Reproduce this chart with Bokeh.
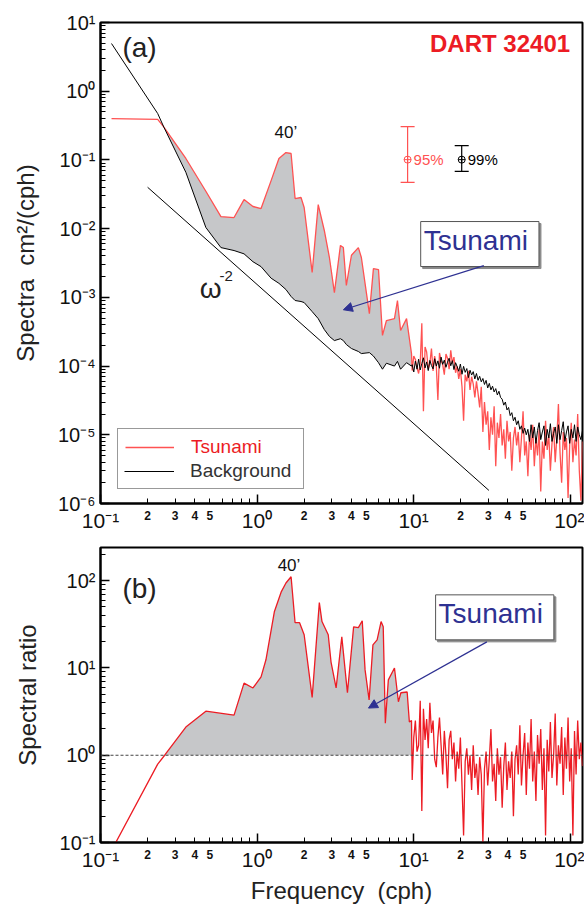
from bokeh.plotting import figure
from bokeh.layouts import column
from bokeh.models import (Range1d, FixedTicker, CustomJSTickFormatter, Label, Legend, LegendItem,
                          Span, Arrow, NormalHead, Whisker, TeeHead, ColumnDataSource, LogAxis)
from bokeh.embed import file_html
from bokeh.resources import INLINE

FONT = "Liberation Sans"
RED_A = "#ff5252"
RED_B = "#ec1c24"
GRAY_FILL = "#c6c7c9"
BLUE = "#2e3192"

# ---------------- data ----------------
# panel (a), low-frequency part (cph, cm^2/cph)
freq_lo = [0.1176, 0.232, 0.254, 0.351, 0.471, 0.588, 0.713, 0.826, 0.942, 1.061,
           1.23, 1.38, 1.53, 1.65, 1.75, 1.91, 2.0, 2.25, 2.46, 2.69,
           2.90, 3.12, 3.41, 3.56, 3.72, 4.01, 4.44, 4.64, 5.22, 5.54,
           5.97, 6.33, 6.71, 7.55, 7.89, 8.26, 9.02, 9.70]
tsunami_lo = [0.40, 0.39, 0.30, 0.105, 0.035, 0.015, 0.0145, 0.0265, 0.021, 0.0196,
              0.050, 0.105, 0.128, 0.124, 0.0274, 0.0284, 0.0203, 0.0023, 0.0224, 0.0094,
              0.0038, 0.00117, 0.0057, 0.0053, 0.00149, 0.0041, 0.0053, 0.0038, 0.00058, 0.00262,
              0.00254, 0.00028, 0.00046, 0.00049, 0.0009, 0.00033, 0.00049, 0.000152]
background_lo = [4.94, 0.473, 0.30, 0.066, 0.0104, 0.0053, 0.0048, 0.0043, 0.0033, 0.0028,
                 0.0019, 0.0016, 0.0013, 0.00103, 0.0009, 0.00087, 0.00084, 0.00062, 0.00049, 0.00034,
                 0.00027, 0.000235, 0.00025, 0.000235, 0.000206, 0.00018, 0.000163, 0.000152, 0.000157, 0.00014,
                 0.000112, 0.00009, 0.00011, 0.0001, 0.000117, 0.00009, 0.000112, 0.0001]

# panel (b), low-frequency part
ratio_freq_lo = [0.1176, 0.232, 0.257, 0.351, 0.471, 0.713, 0.826, 0.942, 1.061, 1.14,
                 1.29, 1.43, 1.53, 1.65, 1.75, 1.87, 2.0, 2.25, 2.5, 2.6,
                 2.85, 2.97, 3.2, 3.48, 3.78, 4.14, 4.44, 4.7, 4.9, 5.2,
                 5.5, 5.85, 6.2, 6.4, 6.6, 6.9, 7.55, 8.0, 8.3, 9.1,
                 9.4, 9.7]
ratio_lo = [0.081, 0.79, 1.0, 2.1, 3.2, 2.88, 6.7, 5.9, 7.9, 12.4,
            44, 75, 94, 111, 33, 33, 24, 4.6, 56, 34,
            24, 11.7, 5.9, 22.7, 5.2, 29.6, 29, 34.7, 9.5, 4.3,
            18.4, 21, 34, 29.6, 2.33, 7.3, 10, 4.1, 5.2, 5.3,
            2.4, 2.5]

# high-frequency (noisy) part shared by both panels
freq_hi = [9.8, 10.03, 10.27, 10.52, 10.77, 11.03, 11.29, 11.56, 11.84, 12.12,
           12.41, 12.71, 13.01, 13.32, 13.64, 13.97, 14.3, 14.64, 14.99, 15.35,
           15.72, 16.1, 16.48, 16.87, 17.28, 17.69, 18.11, 18.55, 18.99, 19.44,
           19.91, 20.39, 20.87, 21.37, 21.88, 22.41, 22.94, 23.49, 24.05, 24.63,
           25.22, 25.82, 26.44, 27.07, 27.72, 28.38, 29.06, 29.76, 30.47, 31.2,
           31.95, 32.71, 33.49, 34.29, 35.11, 35.95, 36.81, 37.69, 38.59, 39.52,
           40.46, 41.43, 42.42, 43.44, 44.48, 45.54, 46.63, 47.75, 48.89, 50.06,
           51.26, 52.48, 53.74, 55.02, 56.34, 57.69, 59.07, 60.48, 61.93, 63.41,
           64.93, 66.48, 68.07, 69.7, 71.37, 73.08, 74.82, 76.61, 78.45, 80.32,
           82.24, 84.21, 86.23, 88.29, 90.4, 92.56, 94.77, 97.04, 99.36, 101.7,
           104.2, 106.7, 109.2, 111.8, 114.5, 117.2, 120.0]
background_hi = [10.5e-5, 8.2e-5, 11.8e-5, 9.0e-5, 12.6e-5, 8.8e-5, 10.9e-5, 13.2e-5, 9.4e-5, 11.5e-5,
                 8.6e-5, 12.1e-5, 10.2e-5, 9.1e-5, 12.8e-5, 10.0e-5, 11.9e-5, 9.3e-5, 13.5e-5, 10.6e-5,
                 12.2e-5, 9.6e-5, 11.4e-5, 13.0e-5,
                 10.1e-5, 12.0e-5, 8.9e-5, 11.2e-5, 9.8e-5, 8.4e-5, 10.7e-5, 7.6e-5, 9.9e-5, 8.1e-5,
                 9.2e-5, 6.8e-5, 8.7e-5, 7.4e-5, 8.3e-5, 6.5e-5, 7.8e-5, 6.2e-5, 7.1e-5, 5.9e-5, 6.6e-5,
                 5.4e-5, 6.2e-5, 4.8e-5, 5.6e-5, 4.5e-5, 5.1e-5, 4.2e-5, 4.7e-5, 3.8e-5, 4.3e-5, 3.5e-5,
                 3.3e-5, 2.7e-5, 3.0e-5, 2.3e-5, 2.5e-5, 1.9e-5, 2.1e-5, 1.6e-5, 1.8e-5,
                 1.4e-5, 1.6e-5, 1.2e-5, 1.35e-5, 1.05e-5, 1.25e-5, 1.0e-5,
                 1.2e-5, 0.8e-5, 1.4e-5, 0.9e-5, 1.3e-5, 0.75e-5, 1.15e-5, 1.5e-5, 0.85e-5, 1.1e-5,
                 1.35e-5, 0.7e-5, 1.2e-5, 0.9e-5, 1.45e-5, 0.8e-5, 1.05e-5, 1.3e-5, 0.75e-5, 1.4e-5,
                 0.85e-5, 1.15e-5, 1.55e-5, 0.8e-5, 1.1e-5, 1.35e-5, 0.75e-5, 1.2e-5, 0.9e-5, 1.4e-5,
                 0.8e-5, 1.3e-5, 1.0e-5, 0.85e-5, 1.15e-5]
tsunami_hi = [8.6e-5, 14.0e-5, 12.5e-5, 9.5e-5, 7.8e-5, 11.0e-5, 42.0e-5, 2.2e-5, 19.0e-5, 16.0e-5,
              9.0e-5, 11.0e-5, 18.0e-5, 8.5e-5, 14.0e-5, 10.0e-5, 3.2e-5, 15.5e-5, 12.0e-5, 10.5e-5,
              7.5e-5, 15.0e-5, 13.0e-5, 9.0e-5,
              17.0e-5, 11.0e-5, 13.5e-5, 8.0e-5, 10.0e-5, 6.5e-5, 9.0e-5, 5.0e-5, 1.6e-5, 7.5e-5,
              6.0e-5, 8.5e-5, 4.5e-5, 7.0e-5, 5.5e-5, 3.5e-5, 6.0e-5, 4.0e-5, 2.5e-5, 5.0e-5, 1.1e-5,
              3.0e-5, 1.4e-5, 2.2e-5, 0.6e-5, 1.8e-5, 1.0e-5, 2.6e-5, 0.35e-5, 1.5e-5, 0.9e-5,
              2.0e-5, 0.7e-5, 1.2e-5, 0.45e-5, 1.6e-5, 0.8e-5, 1.1e-5, 0.3e-5, 0.9e-5, 1.3e-5,
              0.7e-5, 1.1e-5, 0.4e-5, 0.9e-5, 2.2e-5, 0.5e-5, 0.8e-5, 0.25e-5, 1.0e-5, 0.6e-5,
              1.4e-5, 0.35e-5, 0.9e-5, 0.5e-5, 1.2e-5, 0.15e-5, 0.8e-5, 0.45e-5, 1.6e-5, 0.6e-5,
              1.0e-5, 0.3e-5, 0.75e-5, 1.3e-5, 0.4e-5, 0.9e-5, 2.8e-5, 0.55e-5, 0.2e-5, 1.1e-5,
              0.6e-5, 0.9e-5, 0.12e-5, 0.7e-5, 1.5e-5, 0.4e-5, 0.85e-5, 0.5e-5, 2.0e-5, 0.3e-5,
              0.11e-5, 0.8e-5]
ratio_hi = [0.52, 1.6, 2.5, 1.1, 1.3, 4.2, 0.23, 3.4, 1.5, 2.6,
            1.2, 4.0, 1.8, 2.5, 0.9, 0.73, 1.6, 2.7, 1.3, 0.6,
            1.9, 1.0, 0.42, 1.5,
            1.9, 0.9, 1.4, 0.5, 1.1, 0.7, 1.6, 0.45, 0.12, 0.85,
            1.2, 0.6, 1.0, 0.4, 1.3, 0.55, 0.8, 0.35, 0.95, 0.6, 0.1,
            0.7, 1.1, 0.45, 0.9, 2.0, 0.5, 0.8, 0.3, 1.2, 0.6,
            0.95, 0.25, 0.75, 1.4, 0.4, 0.85, 0.55, 1.1, 0.2, 0.9,
            1.3, 0.6, 2.2, 0.45, 1.0, 1.8, 0.35, 1.4, 0.7, 2.6,
            0.5, 1.1, 0.3, 1.7, 0.8, 2.0, 0.4, 1.2, 0.12, 1.5,
            0.65, 2.4, 0.55, 1.0, 3.0, 0.45, 1.3, 0.8, 2.1, 0.35,
            1.6, 0.7, 2.7, 0.5, 1.2, 0.12, 1.9, 0.6, 2.5, 0.9,
            1.4, 0.75]

# omega^-2 reference line
omega_freq = [0.2, 30.3]
omega_level = [0.04, 1.55e-6]

# confidence intervals
ci_freq = [9.16, 20.3]
ci_center = [0.101, 0.101]
ci_upper = [0.306, 0.162]
ci_lower = [0.047, 0.068]
ci_labels = ["95%", "99%"]
ci_colors = [RED_A, "black"]

# labelled intermediate ticks (2 3 4 5 in each decade)
x_minor_digits = [0.2, 0.3, 0.4, 0.5, 2, 3, 4, 5, 20, 30, 40, 50]

assert len(freq_lo) == len(tsunami_lo) == len(background_lo)
assert len(ratio_freq_lo) == len(ratio_lo)
assert len(freq_hi) == len(tsunami_hi) == len(background_hi) == len(ratio_hi)

freq_all = freq_lo + freq_hi
tsunami_all = tsunami_lo + tsunami_hi
background_all = background_lo + background_hi
ratio_freq_all = ratio_freq_lo + freq_hi
ratio_all = ratio_lo + ratio_hi

SUP_JS = """
const e = Math.round(Math.log10(tick));
const m = {"-":"\u207b","0":"\u2070","1":"\u00b9","2":"\u00b2","3":"\u00b3","4":"\u2074","5":"\u2075","6":"\u2076","7":"\u2077","8":"\u2078","9":"\u2079"};
return "10" + String(e).split("").map(c => m[c]).join("");
"""
DIGIT_JS = """
const d = Math.round(tick / Math.pow(10, Math.floor(Math.log10(tick) + 1e-9)));
return String(d);
"""
NB = "\u00a0"


def log_ticker(e0, e1, top):
    majors = [10.0 ** e for e in range(e0, e1 + 1)]
    minors = [m * 10.0 ** e for e in range(e0, e1 + 1) for m in range(2, 10) if m * 10.0 ** e <= top]
    return FixedTicker(ticks=majors, minor_ticks=minors)


def style(p, y0, y1, ytop, ylabel, xlabel=None):
    p.outline_line_color = "black"
    p.outline_line_width = 2
    p.xgrid.visible = False
    p.ygrid.visible = False
    p.xaxis.ticker = log_ticker(-1, 2, 120)
    p.yaxis.ticker = log_ticker(y0, y1, ytop)
    for ax in (p.xaxis[0], p.yaxis[0]):
        ax.formatter = CustomJSTickFormatter(code=SUP_JS)
        ax.axis_line_width = 2
        ax.axis_line_color = "black"
        ax.major_tick_in = 9
        ax.major_tick_out = 0
        ax.minor_tick_in = 5
        ax.minor_tick_out = 0
        ax.major_tick_line_width = 1.5
        ax.minor_tick_line_width = 1
        ax.major_label_text_font = FONT
        ax.major_label_text_color = "#111111"
        ax.axis_label_text_font = FONT
        ax.axis_label_text_font_style = "normal"
        ax.axis_label_text_font_size = "24px"
        ax.axis_label_text_color = "#222222"
    p.xaxis.major_label_text_font_size = "21px"
    p.yaxis.major_label_text_font_size = "20px"
    p.xaxis.major_label_standoff = 5
    p.yaxis.major_label_standoff = 5
    p.yaxis.axis_label = ylabel
    p.yaxis.axis_label_standoff = 16
    # second axis carrying the small bold 2 3 4 5 labels (and the x title, if any)
    dig = LogAxis(ticker=FixedTicker(ticks=x_minor_digits, minor_ticks=[]),
                  formatter=CustomJSTickFormatter(code=DIGIT_JS),
                  axis_line_alpha=0, major_tick_in=0, major_tick_out=0,
                  minor_tick_in=0, minor_tick_out=0,
                  major_label_standoff=-24, major_label_text_font=FONT,
                  major_label_text_font_size="12px", major_label_text_font_style="bold",
                  major_label_text_color="#111111",
                  axis_label_text_font=FONT, axis_label_text_font_style="normal",
                  axis_label_text_font_size="24px", axis_label_text_color="#222222")
    if xlabel:
        dig.axis_label = xlabel
        dig.axis_label_standoff = 15
    p.add_layout(dig, "below")


def boxed(p, x, y, text):
    pad = (3, 11, 3, 11)
    p.add_layout(Label(x=x, y=y, text=text, text_font=FONT, text_font_size="28px",
                       text_color="rgba(0,0,0,0)", text_align="center", text_baseline="middle",
                       x_offset=2, y_offset=-2, background_fill_color="#8a8a8a",
                       border_line_color="#8a8a8a", padding=pad))
    p.add_layout(Label(x=x, y=y, text=text, text_font=FONT, text_font_size="28px",
                       text_color=BLUE, text_align="center", text_baseline="middle",
                       background_fill_color="white", border_line_color="#555555",
                       border_line_width=1, padding=pad))


# ---------------- panel (a) ----------------
pa = figure(width=584, height=535, x_axis_type="log", y_axis_type="log",
            x_range=Range1d(0.1, 120), y_range=Range1d(1e-6, 10),
            output_backend="svg", toolbar_location=None,
            min_border_left=100, min_border_right=2, min_border_top=22, min_border_bottom=32)
style(pa, -6, 1, 10, "Spectra" + NB + NB + "cm\u00b2/(cph)")

pa.varea(x=freq_lo[2:], y1=background_lo[2:], y2=tsunami_lo[2:], fill_color=GRAY_FILL)
r_ts = pa.line(freq_all, tsunami_all, line_color=RED_A, line_width=1.3)
r_bg = pa.line(freq_all, background_all, line_color="black", line_width=1.0)
pa.line(omega_freq, omega_level, line_color="black", line_width=1.0)

for i in range(len(ci_freq)):
    src = ColumnDataSource(dict(x=[ci_freq[i]], lo=[ci_lower[i]], hi=[ci_upper[i]]))
    pa.add_layout(Whisker(source=src, base="x", lower="lo", upper="hi", dimension="height",
                          line_color=ci_colors[i], line_width=1.2,
                          lower_head=TeeHead(size=14, line_color=ci_colors[i], line_width=1.2),
                          upper_head=TeeHead(size=14, line_color=ci_colors[i], line_width=1.2)))
    pa.add_layout(Label(x=ci_freq[i], y=ci_center[i], text=ci_labels[i], x_offset=6,
                        text_font=FONT, text_font_size="15px", text_color=ci_colors[i],
                        text_baseline="middle", text_align="left"))
pa.scatter(ci_freq, ci_center, marker="circle_cross", size=7, fill_alpha=0,
           line_color=ci_colors, line_width=1)

pa.add_layout(Label(x=0.138, y=4.3, text="(a)", text_font=FONT, text_font_size="28px",
                    text_baseline="middle", text_align="left", text_color="#222222"))
pa.add_layout(Label(x=100, y=4.87, text="DART 32401", text_font=FONT, text_font_size="24px",
                    text_font_style="bold", text_baseline="middle", text_align="right",
                    text_color=RED_B))
pa.add_layout(Label(x=1.53, y=0.25, text="40\u2019", text_font=FONT, text_font_size="17px",
                    text_baseline="middle", text_align="center", text_color="#111111"))
pa.add_layout(Label(x=0.505, y=1.34e-3, text="\u03c9", text_font=FONT, text_font_size="28px",
                    text_baseline="middle", text_align="center", text_color="#222222"))
pa.add_layout(Label(x=0.575, y=2.07e-3, text="-2", text_font=FONT, text_font_size="15px",
                    text_baseline="middle", text_align="left", text_color="#222222"))

boxed(pa, 26.5, 5.97e-3, "Tsunami")
pa.add_layout(Arrow(end=NormalHead(size=9, fill_color=BLUE, line_color=BLUE),
                    x_start=28.1, y_start=2.9e-3, x_end=3.56, y_end=6.6e-4,
                    line_color=BLUE, line_width=1.2))

leg_common = dict(location=(17, 14), padding=7, spacing=3, glyph_width=49, glyph_height=20,
                  label_height=20, label_standoff=17, label_text_font=FONT,
                  label_text_font_size="19px", margin=0)
leg1 = Legend(items=[LegendItem(label="Tsunami", renderers=[r_ts]),
                     LegendItem(label=" ", renderers=[r_bg])],
              label_text_color=RED_B, border_line_color="#333333", border_line_width=1.2,
              background_fill_color="white", label_width=105, **leg_common)
leg2 = Legend(items=[LegendItem(label="Background", renderers=[r_bg])],
              label_text_color="#333333", border_line_alpha=0, background_fill_alpha=0,
              label_width=105, **leg_common)
pa.add_layout(leg1)
pa.add_layout(leg2)

# ---------------- panel (b) ----------------
pb = figure(width=584, height=371, x_axis_type="log", y_axis_type="log",
            x_range=Range1d(0.1, 120), y_range=Range1d(0.1, 240),
            output_backend="svg", toolbar_location=None,
            min_border_left=100, min_border_right=2, min_border_top=12, min_border_bottom=64)
style(pb, -1, 2, 240, "Spectral ratio", "Frequency" + NB + NB + "(cph)")

pb.varea(x=ratio_freq_lo[2:], y1=[1.0] * len(ratio_freq_lo[2:]), y2=ratio_lo[2:], fill_color=GRAY_FILL)
pb.add_layout(Span(location=1.0, dimension="width", line_color="#444444", line_width=1.2,
                   line_dash="3 2"))
pb.line(ratio_freq_all, ratio_all, line_color=RED_B, line_width=1.3)

pb.add_layout(Label(x=0.138, y=81, text="(b)", text_font=FONT, text_font_size="28px",
                    text_baseline="middle", text_align="left", text_color="#222222"))
pb.add_layout(Label(x=1.6, y=149, text="40\u2019", text_font=FONT, text_font_size="17px",
                    text_baseline="middle", text_align="center", text_color="#111111"))
boxed(pb, 33.0, 38.0, "Tsunami")
pb.add_layout(Arrow(end=NormalHead(size=9, fill_color=BLUE, line_color=BLUE),
                    x_start=29.4, y_start=19.9, x_end=5.15, y_end=3.47,
                    line_color=BLUE, line_width=1.2))

layout = column(pa, pb, spacing=0)
open("out.html", "w").write(file_html(layout, INLINE))
